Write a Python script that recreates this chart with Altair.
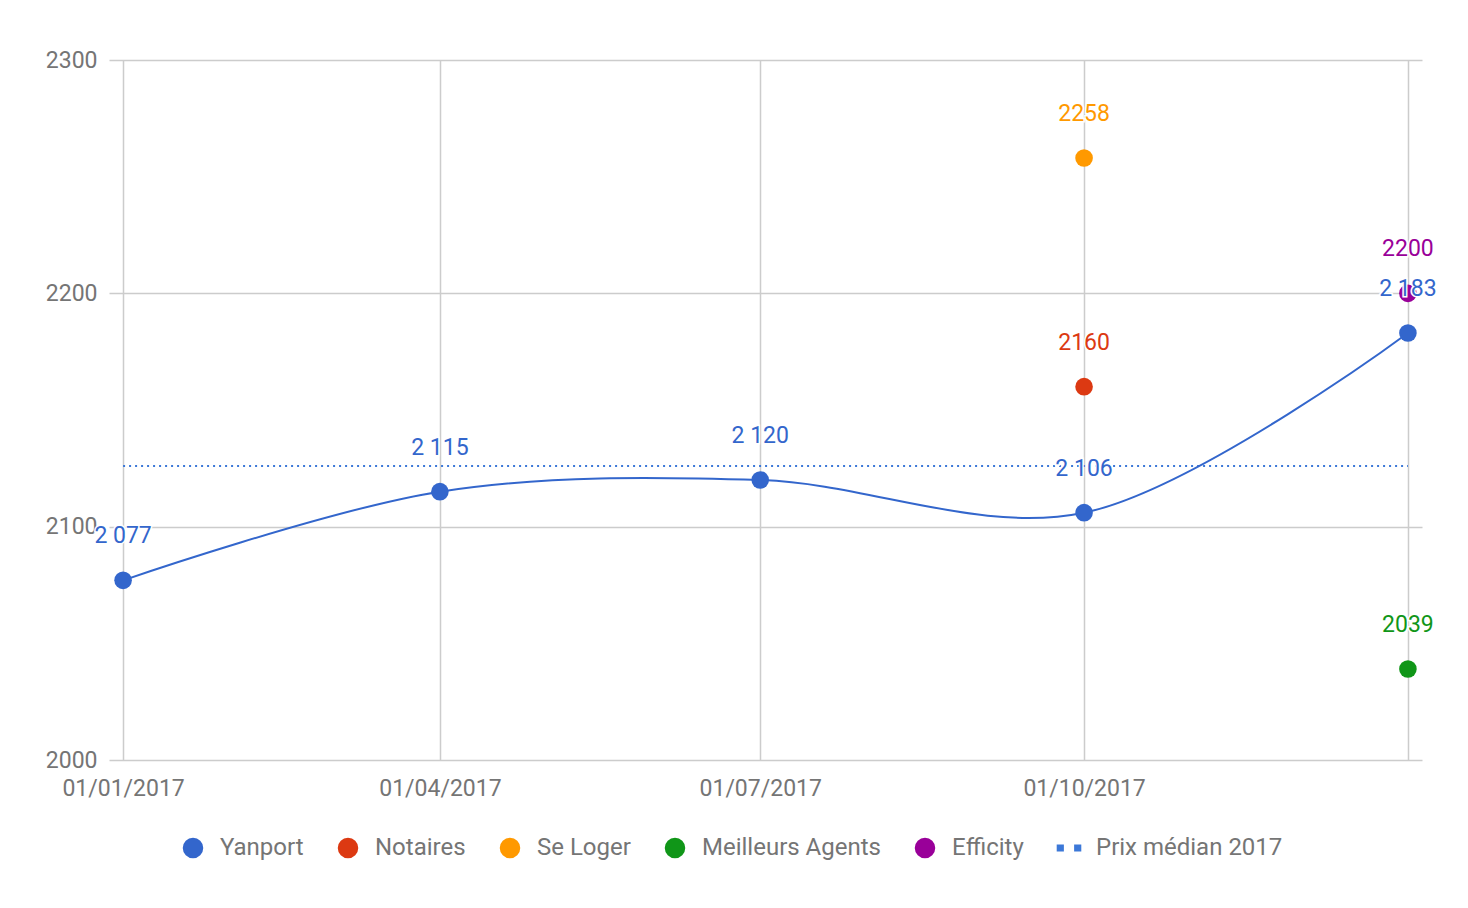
import altair as alt
import pandas as pd

# ---- data ----
dates = ["2017-01-01", "2017-04-01", "2017-07-01", "2017-10-01", "2018-01-01"]
yanport = [2077, 2115, 2120, 2106, 2183]

other_series = ["Notaires", "Se Loger", "Meilleurs Agents", "Efficity"]
other_dates = ["2017-10-01", "2017-10-01", "2018-01-01", "2018-01-01"]
other_values = [2160, 2258, 2039, 2200]

median_value = 2126
median_start = "2017-01-01"
median_end = "2018-01-01"

series_names = ["Yanport", "Notaires", "Se Loger", "Meilleurs Agents", "Efficity", "Prix médian 2017"]
series_colors = ["#3366cc", "#dc3912", "#ff9900", "#109618", "#990099", "#3c78d8"]
dash_shape = "M-1.2,-0.35h0.7v0.7h-0.7zM0.5,-0.35h0.7v0.7h-0.7z"
series_shapes = ["circle", "circle", "circle", "circle", "circle", dash_shape]

y_ticks = [2000, 2100, 2200, 2300]

# ---- tables ----
yan_df = pd.DataFrame({"date": dates, "value": yanport, "series": "Yanport"})
oth_df = pd.DataFrame({"date": other_dates, "value": other_values, "series": other_series})
pts_df = pd.concat([yan_df, oth_df], ignore_index=True)
med_df = pd.DataFrame({"start": [median_start], "end": [median_end], "value": [median_value]})

FONT = "Roboto"
GRAY = "#757575"

x_scale = alt.Scale(type="utc", domain=[alt.DateTime(year=2016, month=12, date=28, utc=True),
                                        alt.DateTime(year=2018, month=1, date=5, utc=True)])
y_scale = alt.Scale(domain=[2000, 2300], nice=False)

color_scale = alt.Scale(domain=series_names, range=series_colors)
shape_scale = alt.Scale(domain=series_names, range=series_shapes)

x_axis = alt.Axis(
    values=[alt.DateTime(year=int(d[:4]), month=int(d[5:7]), date=int(d[8:]), utc=True) for d in dates],
    labelExpr="utcyear(datum.value) == 2018 ? '' : utcFormat(datum.value, '%d/%m/%Y')",
    title=None, grid=True, ticks=False, domain=False,
    labelFontSize=23, labelColor=GRAY, labelFont=FONT, labelPadding=17,
    gridColor="#cccccc", gridWidth=1.5,
)
y_axis = alt.Axis(
    values=y_ticks, title=None, grid=True, ticks=False, domain=False,
    labelFontSize=23, labelColor=GRAY, labelFont=FONT, labelPadding=12,
    gridColor="#cccccc", gridWidth=1.5, format="d",
)

base_x = alt.X("date:T", scale=x_scale, axis=x_axis)
base_y = alt.Y("value:Q", scale=y_scale, axis=y_axis)

line = alt.Chart(yan_df).mark_line(color="#3366cc", strokeWidth=2, interpolate="catmull-rom").encode(
    x=base_x, y=base_y
)

median = alt.Chart(med_df).mark_rule(color="#3c78d8", strokeWidth=2, strokeDash=[2, 4]).encode(
    x=alt.X("start:T", scale=x_scale, axis=x_axis),
    x2="end:T",
    y=alt.Y("value:Q", scale=y_scale, axis=y_axis),
)

legend_opts = dict(
    title=None, orient="none", direction="horizontal", columns=6,
    legendX=72, legendY=776,
    labelFontSize=24, labelColor=GRAY, labelFont=FONT, labelLimit=400,
    symbolSize=420, labelOffset=15, columnPadding=32, symbolStrokeWidth=0,
)

points = alt.Chart(pts_df).mark_point(filled=True, size=310, opacity=1).encode(
    x=base_x, y=base_y,
    color=alt.Color("series:N", scale=color_scale, legend=alt.Legend(**legend_opts)),
    shape=alt.Shape("series:N", scale=shape_scale, legend=alt.Legend(**legend_opts)),
)

label_df_expr = "datum.series == 'Yanport' ? replace(format(datum.value, ','), ',', ' ') : format(datum.value, 'd')"

halo = alt.Chart(pts_df).transform_calculate(lbl=label_df_expr).mark_text(
    fontSize=23, font=FONT, dy=-44, baseline="middle", stroke="white", strokeWidth=3, fill="white"
).encode(x=base_x, y=base_y, text="lbl:N")

labels = alt.Chart(pts_df).transform_calculate(lbl=label_df_expr).mark_text(
    fontSize=23, font=FONT, dy=-44, baseline="middle"
).encode(
    x=base_x, y=base_y, text="lbl:N",
    color=alt.Color("series:N", scale=color_scale, legend=None),
)

chart = alt.layer(median, line, points, halo, labels).properties(
    width=1313, height=700,
    background="white",
    autosize=alt.AutoSizeParams(type="none"),
    padding={"left": 101, "top": 52, "right": 30, "bottom": 100},
).configure_view(stroke=None, strokeWidth=0)

chart.save("out.html", embed_options={"renderer": "svg", "actions": False})
